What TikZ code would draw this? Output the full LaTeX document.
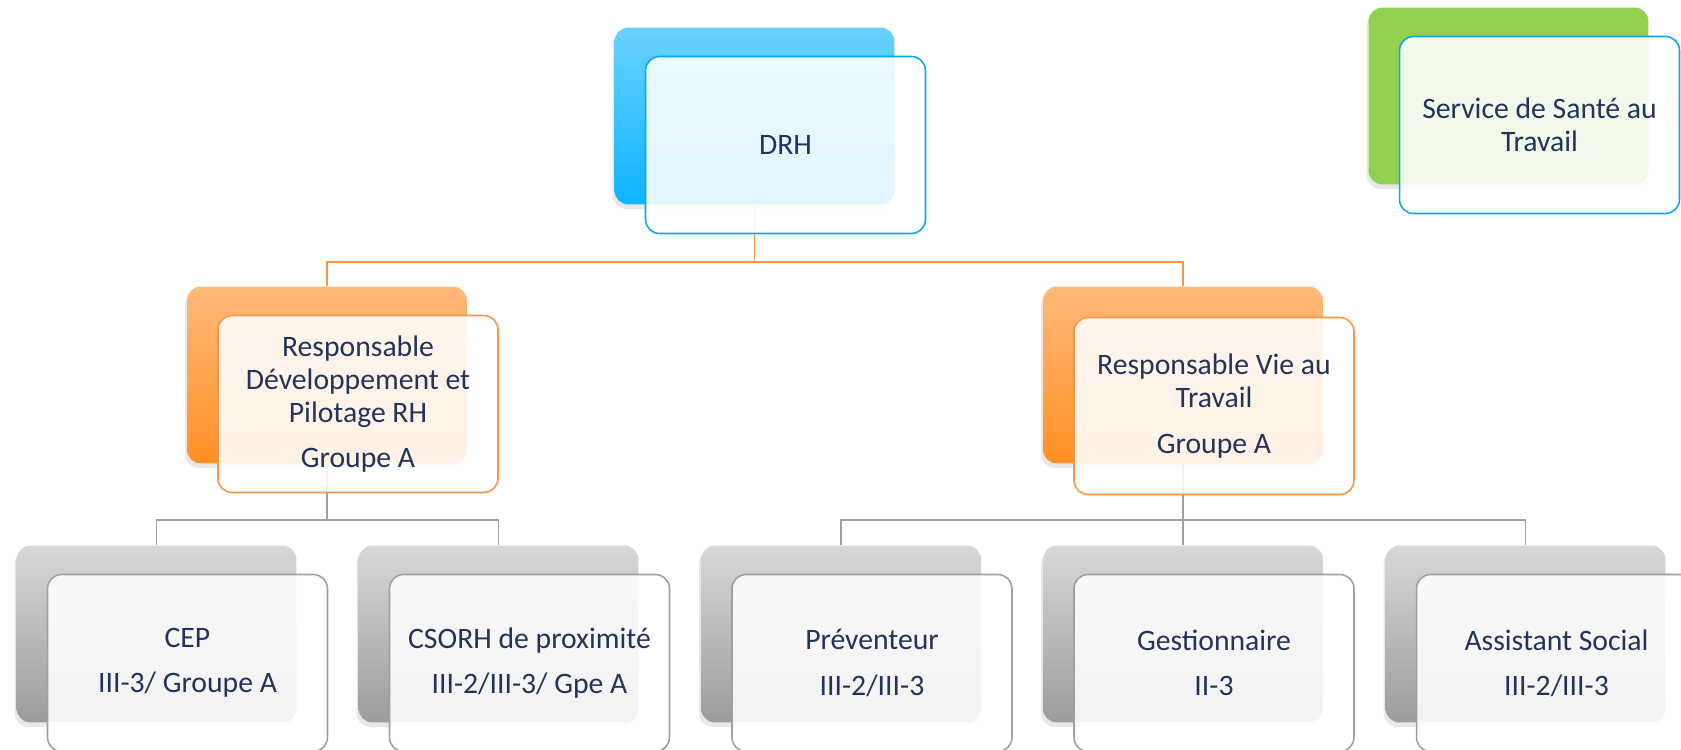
\documentclass[tikz,border=0pt]{standalone}
\usepackage{fontspec}
\setmainfont{Carlito}
\usetikzlibrary {arrows.meta}
\usetikzlibrary {shadows}

\definecolor{navytext}{RGB}{34,52,92}
\definecolor{bluetop}{RGB}{105,209,255}
\definecolor{bluebot}{RGB}{14,180,255}
\definecolor{blueline}{RGB}{10,168,238}
\definecolor{orangetop}{RGB}{255,186,122}
\definecolor{orangebot}{RGB}{255,143,36}
\definecolor{orangeline}{RGB}{247,150,74}
\definecolor{greenfill}{RGB}{146,208,80}
\definecolor{graytop}{RGB}{216,216,216}
\definecolor{graybot}{RGB}{156,156,156}
\definecolor{grayline}{RGB}{160,160,160}

\begin{document}
\begin{tikzpicture}[>=Stealth, x=0.02cm, y=-0.02cm,
    box/.style={rounded corners=0.28cm, minimum width=5.6cm, minimum height=3.54cm, inner sep=0pt},
    back/.style={box, drop shadow={opacity=0.18, shadow xshift=-0.04cm, shadow yshift=-0.09cm}},
    front/.style={box, draw, line width=0.9pt, fill=white, fill opacity=0.88, text opacity=1,
        text=navytext, align=center, font=\fontsize{16.9}{18.9}\selectfont},
    blueback/.style={back, top color=bluetop, bottom color=bluebot},
    orangeback/.style={back, top color=orangetop, bottom color=orangebot},
    greenback/.style={back, fill=greenfill},
    grayback/.style={back, top color=graytop, bottom color=graybot},
    oline/.style={draw=orangeline, line width=0.9pt},
    gline/.style={draw=grayline, line width=1.1pt}]
    \useasboundingbox (0,0) rectangle (1681,750);

    \coordinate (drhjoin) at (754.5,262);
    \coordinate (rdpjoin) at (327,520);
    \coordinate (rvtjoin) at (1183,520);

    % back cards
    \node[blueback] (drhb) at (754.5,116) {};
    \node[greenback] (sstb) at (1508.5,96) {};
    \node[orangeback] (rdpb) at (327,375) {};
    \node[orangeback] (rvtb) at (1183,375) {};
    \node[grayback] (cepb) at (156.5,634) {};
    \node[grayback] (csorhb) at (498.5,634) {};
    \node[grayback] (prevb) at (841,634) {};
    \node[grayback] (gestb) at (1183,634) {};
    \node[grayback] (assb) at (1525.5,634) {};

    \draw[oline] (drhb.south) -- (drhjoin) -| (rdpb.north);
    \draw[oline] (drhjoin) -| (rvtb.north);
    \draw[gline] (rdpb.south) -- (rdpjoin) -| (cepb.north);
    \draw[gline] (rdpjoin) -| (csorhb.north);
    \draw[gline] (rvtb.south) -- (rvtjoin) -| (prevb.north);
    \draw[gline] (rvtjoin) -- (gestb.north);
    \draw[gline] (rvtjoin) -| (assb.north);

    % front cards
    \node[front, draw=blueline, shift={(31,29)}] (drh) at (drhb) {DRH};
    \node[front, draw=blueline, shift={(31,29)}] (sst) at (sstb) {Service de Santé au\\Travail};
    \node[front, draw=orangeline, shift={(31,29)}] (rdp) at (rdpb)
        {Responsable\\Développement et\\Pilotage RH\\[6.8pt]Groupe A};
    \node[front, draw=orangeline, shift={(31,31)}] (rvt) at (rvtb)
        {Responsable Vie au\\Travail\\[7.5pt]Groupe A};
    \node[front, draw=grayline, shift={(31,29)}] (cep) at (cepb) {CEP\\[6.8pt]III-3/ Groupe A};
    \node[front, draw=grayline, shift={(31,29)}] (csorh) at (csorhb) {CSORH de proximité\\[6.8pt]III-2/III-3/ Gpe A};
    \node[front, draw=grayline, shift={(31,29)}] (prev) at (prevb) {Préventeur\\[6.8pt]III-2/III-3};
    \node[front, draw=grayline, shift={(31,29)}] (gest) at (gestb) {Gestionnaire\\[6.8pt]II-3};
    \node[front, draw=grayline, shift={(31,29)}] (ass) at (assb) {Assistant Social\\[6.8pt]III-2/III-3};
\end{tikzpicture}
\end{document}
